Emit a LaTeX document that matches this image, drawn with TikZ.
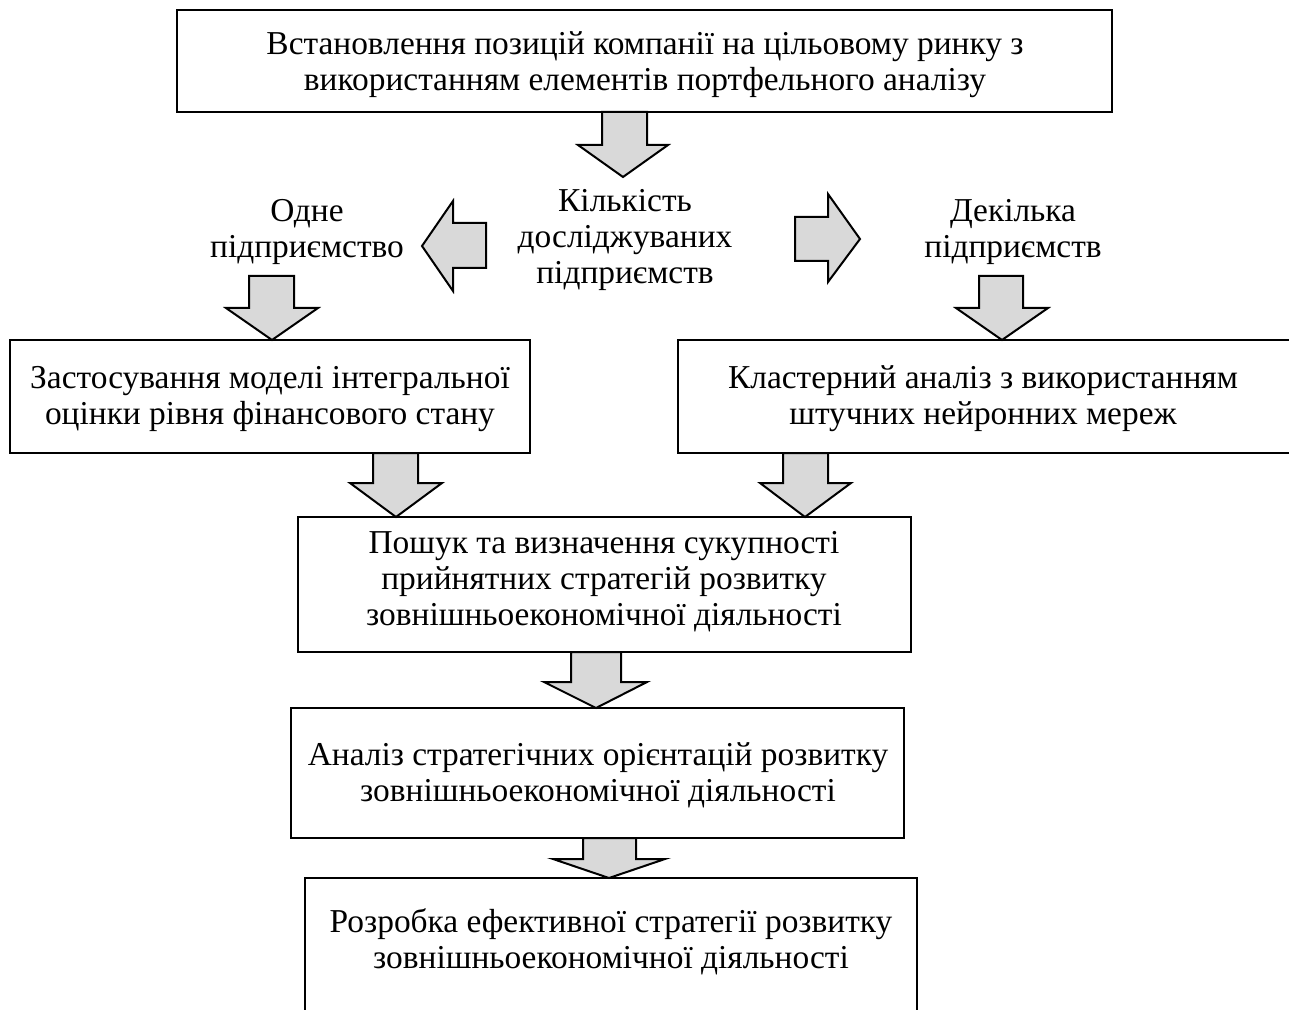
\documentclass[tikz,border=0pt]{standalone}
\usepackage{fontspec}
\setmainfont{Liberation Serif}
\tikzset{
  blk/.style={draw=black, line width=1pt, fill=gray!30, line join=miter},
  boxline/.style={draw=black, line width=1pt},
  txt/.style={align=center, font=\fontsize{16.7}{18}\selectfont, inner sep=0pt}
}
\begin{document}
\begin{tikzpicture}[x=0.5pt,y=-0.5pt]
\useasboundingbox (0,0) rectangle (1289,1010);
% block arrows
\draw[blk] (602,112)--(602,145)--(578,145)--(623,177)--(668,145)--(647,145)--(647,112)--cycle;
\draw[blk] (486,223)--(453,223)--(453,201)--(422,246)--(453,291)--(453,268)--(486,268)--cycle;
\draw[blk] (795,217)--(828,217)--(828,194)--(860,239)--(828,282)--(828,261)--(795,261)--cycle;
\draw[blk] (249,276)--(249,308)--(226,308)--(272,340)--(318,308)--(294,308)--(294,276)--cycle;
\draw[blk] (979,276)--(979,308)--(956,308)--(1002,340)--(1048,308)--(1023,308)--(1023,276)--cycle;
\draw[blk] (373,453)--(373,483)--(350,483)--(396,517)--(442,483)--(418,483)--(418,453)--cycle;
\draw[blk] (783,453)--(783,483)--(760,483)--(805,517)--(851,483)--(828,483)--(828,453)--cycle;
\draw[blk] (571,652)--(571,682)--(544,682)--(596,708)--(647,682)--(621,682)--(621,652)--cycle;
\draw[blk] (583,838)--(583,859)--(553,859)--(609,878)--(665,859)--(636,859)--(636,838)--cycle;
% boxes
\draw[boxline] (177,10) rectangle (1112,112);
\draw[boxline] (10,340) rectangle (530,453);
\draw[boxline] (1289,340)--(678,340)--(678,453)--(1289,453);
\draw[boxline] (298,517) rectangle (911,652);
\draw[boxline] (291,708) rectangle (904,838);
\draw[boxline] (305,1010)--(305,878)--(917,878)--(917,1010);
% texts
\node[txt] (t1) at (645,65) {Встановлення позицій компанії на цільовому ринку з\\використанням елементів портфельного аналізу};
\node[txt] (q) at (625,240) {Кількість\\досліджуваних\\підприємств};
\node[txt] (one) at (307,232) {Одне\\підприємство};
\node[txt] (many) at (1013,232) {Декілька\\підприємств};
\node[txt] (l) at (270,399) {Застосування моделі інтегральної\\оцінки рівня фінансового стану};
\node[txt] (r) at (983,399) {Кластерний аналіз з використанням\\штучних нейронних мереж};
\node[txt] (m) at (604,582) {Пошук та визначення сукупності\\прийнятних стратегій розвитку\\зовнішньоекономічної діяльності};
\node[txt] (a) at (598,775) {Аналіз стратегічних орієнтацій розвитку\\зовнішньоекономічної діяльності};
\node[txt] (d) at (611,942) {Розробка ефективної стратегії розвитку\\зовнішньоекономічної діяльності};
\end{tikzpicture}
\end{document}
